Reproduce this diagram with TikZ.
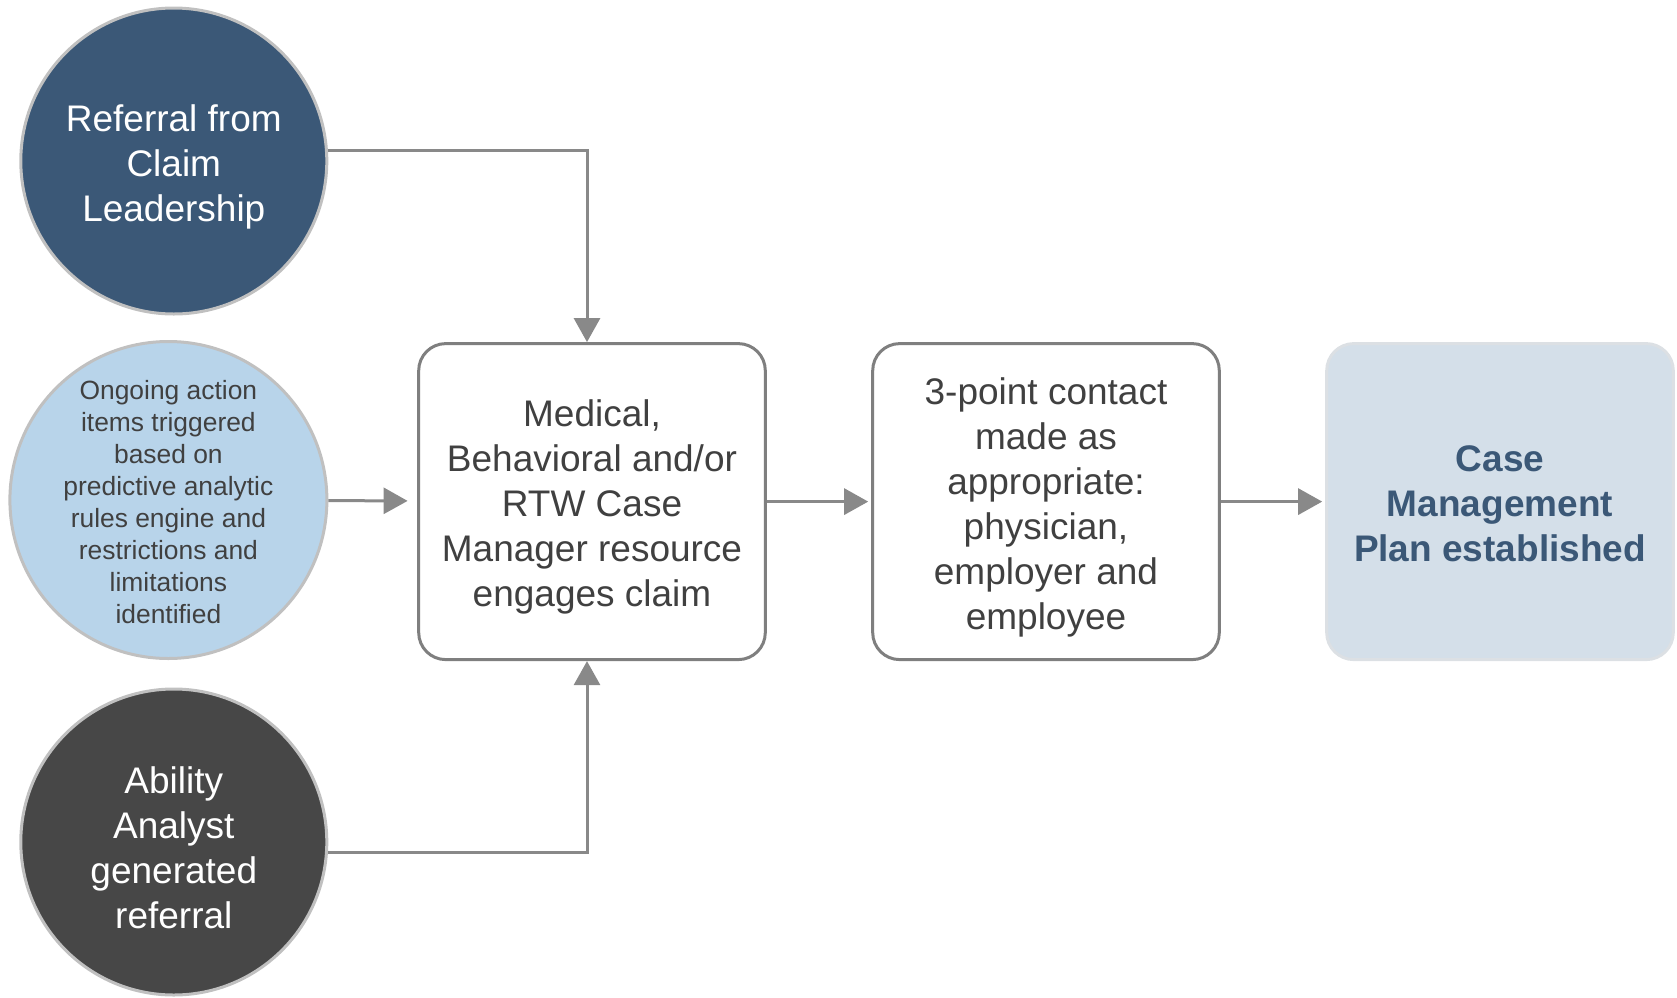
\documentclass[tikz,border=0pt]{standalone}
\usepackage{fontspec}
\setmainfont{Liberation Sans}
\usetikzlibrary{arrows.meta}
\definecolor{navy}{HTML}{3B5877}
\definecolor{skyblue}{HTML}{B8D4EA}
\definecolor{charcoal}{HTML}{474747}
\definecolor{ringgray}{HTML}{C0C0C0}
\definecolor{boxgray}{HTML}{7F7F7F}
\definecolor{arrowgray}{HTML}{898989}
\definecolor{darktext}{HTML}{404040}
\definecolor{paleblue}{HTML}{D4DFE9}
\definecolor{paleedge}{HTML}{DCE0E4}
\newcommand\lift[1][19pt]{\rule{0pt}{#1}}

\begin{document}
\begin{tikzpicture}[x=0.5pt,y=-0.5pt,
    every node/.style={align=center,font=\fontsize{18.5}{22.5}\selectfont},
    ring/.style={circle,draw=ringgray,line width=1.5pt,minimum size=153pt,inner sep=-12pt},
    card/.style={rectangle,rounded corners=13.5pt,line width=1.5pt,minimum width=173.3pt,minimum height=158pt,inner sep=0pt},
    link/.style={draw=arrowgray,line width=1.5pt,-{Triangle[length=12pt,width=13pt]}}]
    \useasboundingbox (0,0) rectangle (1677,997);

    \node[ring,fill=navy,text=white] (C1) at (173.8,161) {\lift Referral from\\Claim\\Leadership};
    \node[ring,fill=skyblue,text=darktext,minimum size=158.5pt,font=\fontsize{13.2}{16}\selectfont] (C2) at (168.4,500)
        {\lift[11.5pt]Ongoing action\\items triggered\\based on\\predictive analytic\\rules engine and\\restrictions and\\limitations\\identified};
    \node[ring,fill=charcoal,text=white] (C3) at (173.8,842) {\lift Ability\\Analyst\\generated\\referral};

    \node[card,draw=boxgray,fill=white,text=darktext] (B1) at (592,501.6) {\lift Medical,\\Behavioral and/or\\RTW Case\\Manager resource\\engages claim};
    \node[card,draw=boxgray,fill=white,text=darktext] (B2) at (1046,501.6) {\lift 3-point contact\\made as\\appropriate:\\physician,\\employer and\\employee};
    \node[card,draw=paleedge,fill=paleblue,text=navy,font=\fontsize{18.5}{22.5}\selectfont\bfseries] (B3) at (1500,501.6) {\lift[15pt]Case\\Management\\Plan established};

    \draw[link] (C1.4) -| ([xshift=-2.5pt]B1.north);
    \draw[link] (C3.-4) -| ([xshift=-2.5pt]B1.south);
    \draw[link,shorten >=4.8pt] (C2) -- (B1);
    \foreach \a/\b in {B1/B2,B2/B3}
        \draw[link,shorten >=1.5pt] (\a) -- (\b);
\end{tikzpicture}
\end{document}
